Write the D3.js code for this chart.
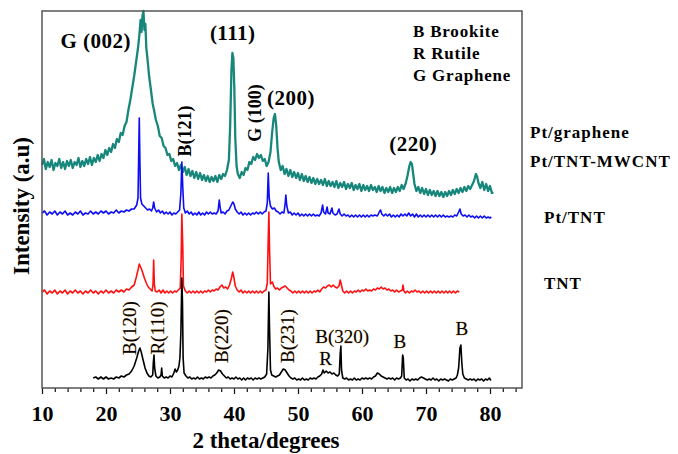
<!DOCTYPE html>
<html>
<head>
<meta charset="utf-8">
<script src="https://cdn.jsdelivr.net/npm/d3@7"></script>
<style>
  body { margin: 0; background: #fff; }
  svg text { font-family: "Liberation Serif", "Times New Roman", serif; }
</style>
</head>
<body>
<div id="grafico"></div>
<script>
// 2 theta (graus) e intensidade (u.a., com deslocamento vertical de cada amostra)
const ptGrafeno = [
  [10.0,223],[10.3,229],[10.6,219],[10.9,226],[11.2,221],[11.5,228],[11.8,218],[12.1,225],[12.4,222],[12.7,229],
  [13.0,220],[13.3,226],[13.6,219],[13.9,227],[14.2,222],[14.5,228],[14.8,220],[15.1,226],[15.4,223],[15.7,230],
  [16.0,221],[16.3,227],[16.6,222],[16.9,229],[17.2,224],[17.5,231],[17.8,223],[18.1,230],[18.4,226],[18.7,233],
  [19.0,227],[19.3,234],[19.6,230],[19.9,238],[20.2,233],[20.5,240],[20.8,236],[21.1,244],[21.4,240],[21.7,249],
  [22.0,246],[22.3,255],[22.6,253],[22.9,262],[23.2,266],[23.5,278],[23.8,288],[24.1,300],[24.4,312],[24.7,326],
  [25.0,340],[25.2,352],[25.4,368],[25.55,356],[25.7,372],[25.85,377],[26.0,358],[26.15,364],[26.3,340],[26.5,328],
  [26.7,314],[26.9,304],[27.1,294],[27.3,284],[27.5,278],[27.8,268],[28.1,262],[28.4,252],[28.7,250],[29.0,242],
  [29.3,240],[29.6,233],[29.9,234],[30.2,227],[30.5,229],[30.8,222],[31.1,225],[31.4,218],[31.7,223],[32.0,216],
  [32.3,221],[32.6,213],[32.9,219],[33.2,212],[33.5,217],[33.8,210],[34.1,216],[34.4,209],[34.7,215],[35.0,208],
  [35.3,213],[35.6,207],[35.9,212],[36.2,206],[36.5,211],[36.8,207],[37.1,212],[37.4,206],[37.7,213],[38.0,209],
  [38.3,214],[38.6,212],[38.9,218],[39.2,228],[39.4,262],[39.6,318],[39.75,335],[39.9,330],[40.05,300],[40.2,250],
  [40.4,222],[40.6,214],[40.9,210],[41.2,216],[41.5,213],[41.8,220],[42.1,218],[42.4,226],[42.7,224],[43.0,231],
  [43.3,228],[43.6,234],[43.9,230],[44.2,233],[44.5,227],[44.8,229],[45.1,222],[45.4,226],[45.7,236],[45.95,255],
  [46.2,270],[46.4,274],[46.6,262],[46.8,240],[47.0,226],[47.3,218],[47.6,222],[47.9,214],[48.2,219],[48.5,212],
  [48.8,218],[49.1,211],[49.4,216],[49.7,210],[50.0,215],[50.3,208],[50.6,214],[50.9,207],[51.2,212],[51.5,206],
  [51.8,211],[52.1,205],[52.4,210],[52.7,204],[53.0,209],[53.3,204],[53.6,208],[53.9,203],[54.2,209],[54.5,202],
  [54.8,207],[55.1,202],[55.4,206],[55.7,201],[56.0,207],[56.3,200],[56.6,205],[56.9,201],[57.2,206],[57.5,199],
  [57.8,204],[58.1,200],[58.4,205],[58.7,198],[59.0,203],[59.3,199],[59.6,204],[59.9,197],[60.2,203],[60.5,198],
  [60.8,202],[61.1,197],[61.4,203],[61.7,198],[62.0,201],[62.3,196],[62.6,202],[62.9,197],[63.2,201],[63.5,195],
  [63.8,200],[64.1,196],[64.4,201],[64.7,195],[65.0,200],[65.3,196],[65.6,201],[65.9,197],[66.2,203],[66.5,199],
  [66.8,204],[67.1,212],[67.4,222],[67.6,226],[67.8,224],[68.0,214],[68.2,204],[68.5,197],[68.8,201],[69.1,195],
  [69.4,200],[69.7,194],[70.0,199],[70.3,193],[70.6,198],[70.9,193],[71.2,197],[71.5,192],[71.8,197],[72.1,192],
  [72.4,196],[72.7,191],[73.0,196],[73.3,192],[73.6,197],[73.9,193],[74.2,198],[74.5,194],[74.8,199],[75.1,195],
  [75.4,200],[75.7,196],[76.0,201],[76.3,197],[76.6,202],[76.9,199],[77.2,203],[77.5,207],[77.8,214],[78.0,211],
  [78.2,205],[78.5,200],[78.8,206],[79.1,198],[79.4,204],[79.7,197],[80.0,202],[80.3,195],[80.5,196]
];

const ptTntMwcnt = [
  [10.0,175],[10.4,177],[10.8,173],[11.2,176],[11.6,174],[12.0,177],[12.4,173],[12.8,176],[13.2,174],[13.6,177],
  [14.0,173],[14.4,175],[14.8,173],[15.2,176],[15.6,174],[16.0,177],[16.4,173],[16.8,175],[17.2,174],[17.6,177],
  [18.0,174],[18.4,176],[18.8,174],[19.2,177],[19.6,175],[20.0,177],[20.4,174],[20.8,176],[21.2,175],[21.6,178],
  [22.0,175],[22.4,177],[22.8,176],[23.2,178],[23.6,177],[24.0,179],[24.4,179],[24.8,183],[25.0,190],[25.1,230],
  [25.2,270],[25.3,225],[25.4,190],[25.6,184],[25.9,182],[26.2,180],[26.5,178],[26.8,179],[27.1,177],[27.3,180],
  [27.45,186],[27.6,180],[27.9,176],[28.2,178],[28.5,175],[28.8,177],[29.1,174],[29.4,176],[29.7,174],[30.0,176],
  [30.3,173],[30.6,175],[30.9,174],[31.2,176],[31.5,178],[31.7,195],[31.85,226],[32.0,200],[32.15,180],[32.4,175],
  [32.7,177],[33.0,174],[33.3,176],[33.6,173],[33.9,175],[34.2,173],[34.5,176],[34.8,173],[35.1,175],[35.4,173],
  [35.7,176],[36.0,174],[36.3,176],[36.6,174],[36.9,175],[37.2,174],[37.5,177],[37.7,188],[37.85,180],[38.0,175],
  [38.3,176],[38.6,174],[38.9,177],[39.2,178],[39.5,182],[39.8,186],[40.0,184],[40.2,179],[40.5,176],[40.8,174],
  [41.1,176],[41.4,173],[41.7,175],[42.0,173],[42.3,175],[42.6,173],[42.9,175],[43.2,174],[43.5,176],[43.8,174],
  [44.1,176],[44.4,174],[44.7,176],[45.0,177],[45.2,185],[45.35,215],[45.5,190],[45.7,182],[46.0,179],[46.3,180],
  [46.6,177],[46.9,176],[47.2,174],[47.5,176],[47.8,175],[48.0,185],[48.1,193],[48.25,182],[48.5,175],[48.8,176],
  [49.1,173],[49.4,175],[49.7,173],[50.0,175],[50.3,172],[50.6,174],[50.9,172],[51.2,174],[51.5,172],[51.8,174],
  [52.1,172],[52.4,174],[52.7,172],[53.0,173],[53.3,172],[53.6,175],[53.85,183],[54.0,176],[54.3,174],[54.55,181],
  [54.7,175],[55.0,174],[55.3,180],[55.45,175],[55.8,173],[56.1,174],[56.4,179],[56.6,174],[56.9,172],[57.2,174],
  [57.5,172],[57.8,173],[58.1,171],[58.4,173],[58.7,171],[59.0,173],[59.3,171],[59.6,173],[59.9,171],[60.2,173],
  [60.5,171],[60.8,173],[61.1,171],[61.4,173],[61.7,172],[62.0,173],[62.4,172],[62.7,176],[62.9,178],[63.1,174],
  [63.4,172],[63.7,174],[64.0,172],[64.3,174],[64.6,171],[64.9,173],[65.2,171],[65.5,173],[65.8,171],[66.1,174],
  [66.4,172],[66.7,174],[67.0,172],[67.3,175],[67.6,172],[67.9,174],[68.2,171],[68.5,174],[68.8,171],[69.1,173],
  [69.4,171],[69.7,173],[70.0,171],[70.3,173],[70.6,171],[70.9,173],[71.2,171],[71.5,173],[71.8,171],[72.1,173],
  [72.4,171],[72.7,173],[73.0,171],[73.3,172],[73.6,171],[73.9,172],[74.2,171],[74.5,173],[74.8,172],[75.1,176],
  [75.3,179],[75.5,174],[75.8,172],[76.1,173],[76.4,171],[76.7,173],[77.0,171],[77.3,172],[77.6,170],[77.9,172],
  [78.2,170],[78.5,172],[78.8,170],[79.1,172],[79.4,170],[79.7,171],[80.0,170],[80.2,171]
];

const ptTnt = [
  [10.0,96],[10.4,98],[10.8,94],[11.2,97],[11.6,95],[12.0,98],[12.4,94],[12.8,97],[13.2,95],[13.6,98],
  [14.0,94],[14.4,97],[14.8,95],[15.2,98],[15.6,95],[16.0,97],[16.4,94],[16.8,97],[17.2,95],[17.6,98],
  [18.0,95],[18.4,97],[18.8,94],[19.2,97],[19.6,95],[20.0,98],[20.4,95],[20.8,97],[21.2,95],[21.6,98],
  [22.0,96],[22.4,98],[22.8,96],[23.2,99],[23.6,98],[24.0,101],[24.4,103],[24.7,110],[25.0,118],[25.2,124],
  [25.4,121],[25.6,118],[25.8,114],[26.0,110],[26.3,105],[26.6,101],[26.9,99],[27.2,97],[27.35,104],[27.45,128],
  [27.55,104],[27.7,97],[28.0,96],[28.3,98],[28.6,95],[28.9,98],[29.2,95],[29.5,97],[29.8,95],[30.1,97],
  [30.4,95],[30.7,97],[31.0,96],[31.3,98],[31.6,100],[31.75,130],[31.85,174],[32.0,140],[32.1,102],[32.4,97],
  [32.7,95],[33.0,97],[33.3,95],[33.6,97],[33.9,95],[34.2,97],[34.5,95],[34.8,97],[35.1,95],[35.4,97],
  [35.7,96],[36.0,98],[36.3,96],[36.6,98],[36.9,97],[37.2,99],[37.5,98],[37.8,101],[38.1,103],[38.4,100],
  [38.7,101],[39.0,99],[39.3,103],[39.6,110],[39.8,116],[40.0,110],[40.2,102],[40.5,98],[40.8,96],[41.1,98],
  [41.4,95],[41.7,97],[42.0,95],[42.3,97],[42.6,95],[42.9,97],[43.2,95],[43.5,97],[43.8,95],[44.1,97],
  [44.4,95],[44.7,97],[45.0,98],[45.2,105],[45.35,150],[45.45,176],[45.55,140],[45.7,104],[46.0,106],[46.2,102],
  [46.5,99],[46.8,100],[47.1,98],[47.4,100],[47.7,101],[48.0,102],[48.3,100],[48.6,98],[48.9,97],[49.2,95],
  [49.5,97],[49.8,95],[50.1,97],[50.4,95],[50.7,97],[51.0,95],[51.3,97],[51.6,95],[51.9,97],[52.2,95],
  [52.5,97],[52.8,96],[53.1,98],[53.4,96],[53.7,99],[54.0,101],[54.3,100],[54.6,102],[54.9,103],[55.2,101],
  [55.5,103],[55.8,101],[56.1,100],[56.4,102],[56.6,108],[56.75,104],[57.0,97],[57.3,95],[57.6,97],[57.9,95],
  [58.2,97],[58.5,95],[58.8,97],[59.1,96],[59.4,98],[59.7,96],[60.0,98],[60.3,97],[60.6,99],[60.9,97],
  [61.2,98],[61.5,97],[61.8,99],[62.1,98],[62.4,100],[62.7,99],[63.0,101],[63.3,99],[63.6,100],[63.9,98],
  [64.2,99],[64.5,97],[64.8,98],[65.1,96],[65.4,98],[65.7,96],[66.0,97],[66.3,98],[66.4,103],[66.55,97],
  [66.8,95],[67.1,97],[67.4,95],[67.7,97],[68.0,96],[68.3,98],[68.6,96],[68.9,97],[69.2,95],[69.5,97],
  [69.8,95],[70.1,97],[70.4,95],[70.7,97],[71.0,95],[71.3,97],[71.6,95],[71.9,97],[72.2,95],[72.5,97],
  [72.8,95],[73.1,97],[73.4,95],[73.7,97],[74.0,95],[74.3,97],[74.6,95],[74.9,97],[75.2,96]
];

const tntPuro = [
  [18.0,10],[18.4,11],[18.8,9],[19.2,11],[19.6,9],[20.0,11],[20.4,9],[20.8,10],[21.2,9],[21.6,11],
  [22.0,10],[22.4,12],[22.8,11],[23.2,13],[23.6,14],[24.0,17],[24.4,22],[24.8,30],[25.1,37],[25.3,40],
  [25.5,36],[25.8,28],[26.1,20],[26.4,15],[26.7,12],[27.0,11],[27.3,13],[27.4,26],[27.5,33],[27.6,20],
  [27.8,12],[28.1,10],[28.4,11],[28.6,13],[28.7,20],[28.8,12],[29.1,10],[29.4,11],[29.7,10],[30.0,12],
  [30.3,11],[30.6,15],[30.8,19],[31.0,16],[31.2,18],[31.4,22],[31.55,30],[31.7,55],[31.85,110],[31.95,85],
  [32.05,30],[32.2,15],[32.5,12],[32.8,10],[33.1,11],[33.4,9],[33.7,10],[34.0,9],[34.3,11],[34.6,9],
  [34.9,10],[35.2,9],[35.5,11],[35.8,10],[36.1,11],[36.4,10],[36.7,12],[37.0,13],[37.3,15],[37.6,18],
  [37.9,17],[38.2,14],[38.5,12],[38.8,10],[39.1,11],[39.4,9],[39.7,10],[40.0,9],[40.3,11],[40.6,9],
  [40.9,10],[41.2,8],[41.5,10],[41.8,8],[42.1,10],[42.4,9],[42.7,10],[43.0,8],[43.3,10],[43.6,9],
  [43.9,10],[44.2,9],[44.5,10],[44.8,11],[45.1,14],[45.3,40],[45.45,96],[45.55,60],[45.7,18],[45.9,13],
  [46.2,12],[46.5,11],[46.8,12],[47.1,13],[47.4,16],[47.7,19],[48.0,18],[48.3,15],[48.6,12],[48.9,10],
  [49.2,9],[49.5,10],[49.8,8],[50.1,9],[50.4,8],[50.7,10],[51.0,8],[51.3,9],[51.6,8],[51.9,10],
  [52.2,9],[52.5,10],[52.8,9],[53.1,11],[53.4,12],[53.7,14],[53.9,18],[54.1,15],[54.4,17],[54.7,15],
  [55.0,16],[55.3,14],[55.6,15],[55.9,13],[56.2,12],[56.45,14],[56.6,35],[56.7,42],[56.8,18],[57.0,10],
  [57.3,9],[57.6,10],[57.9,8],[58.2,9],[58.5,8],[58.8,10],[59.1,8],[59.4,9],[59.7,8],[60.0,10],
  [60.3,9],[60.6,10],[60.9,9],[61.2,10],[61.5,9],[61.8,11],[62.1,12],[62.4,15],[62.7,14],[63.0,12],
  [63.3,11],[63.6,10],[63.9,9],[64.2,10],[64.5,9],[64.8,10],[65.1,8],[65.4,10],[65.7,9],[66.0,10],
  [66.2,12],[66.35,33],[66.45,30],[66.6,10],[66.9,8],[67.2,9],[67.5,7],[67.8,9],[68.1,8],[68.4,9],
  [68.7,8],[69.0,10],[69.3,11],[69.6,10],[69.9,9],[70.2,8],[70.5,9],[70.8,8],[71.1,10],[71.4,8],
  [71.7,9],[72.0,7],[72.3,9],[72.6,8],[72.9,9],[73.2,8],[73.5,7],[73.8,9],[74.1,8],[74.4,9],
  [74.7,10],[74.9,13],[75.1,20],[75.3,40],[75.45,43],[75.6,25],[75.75,14],[76.0,10],[76.3,9],[76.6,8],
  [76.9,9],[77.2,8],[77.5,9],[77.8,7],[78.1,9],[78.4,8],[78.7,9],[79.0,7],[79.3,9],[79.6,8],
  [79.9,10],[80.1,8],[80.2,8]
];

// rótulos dos picos: [texto, 2theta, intensidade]
const picosPt = [["G (002)",18.4,340],["(111)",39.8,348],["(200)",48.9,283],["(220)",68.0,237]];
const picosVerticais = [["B(121)",32.3,257],["G (100)",43.3,275]];
const picosTnt = [["B(120)",23.6,60],["R(110)",28.0,60],["B(220)",38.1,52],["B(231)",48.3,52]];
const picosTntHoriz = [["B(320)",56.9,45],["R",54.3,23],["B",65.9,40],["B",75.6,53]];

const legendaFases = ["B Brookite", "R Rutile", "G Graphene"];
const nomesAmostras = ["Pt/graphene", "Pt/TNT-MWCNT", "Pt/TNT", "TNT"];
const ticksX = d3.range(10, 85, 2);

const fonte = '"Liberation Serif", "Times New Roman", serif';

// Configurações do gráfico
let margin = { top: 11, right: 156, bottom: 66, left: 42 };
let width = 678 - margin.left - margin.right;
let height = 454 - margin.top - margin.bottom;

let svgRaiz = d3.select("#grafico").append("svg")
  .attr("width", 678)
  .attr("height", 454);

let svg = svgRaiz.append("g")
  .attr("transform", `translate(${margin.left}, ${margin.top})`);

let x = d3.scaleLinear().domain([10, 85]).range([0, width]);
let y = d3.scaleLinear().domain([0, 377]).range([height, 0]);

// Eixo x
let gx = svg.append("g")
  .attr("transform", `translate(0,${height})`)
  .call(d3.axisBottom(x).tickValues(ticksX).tickSize(4)
    .tickFormat(d => d % 10 === 0 ? d : ""));
gx.attr("font-family", fonte);
gx.select(".domain").remove();
gx.selectAll(".tick line")
  .attr("stroke", "#111")
  .attr("stroke-width", 1.2)
  .attr("y2", d => d % 10 === 0 ? 6 : 4);
gx.selectAll(".tick text")
  .attr("y", 17)
  .attr("font-size", 22)
  .attr("font-weight", "bold")
  .attr("fill", "#000");

// Linhas
let linha = d3.line()
  .x(d => x(d[0]))
  .y(d => y(d[1]));

const series = [
  { dados: ptGrafeno, cor: "#16877a", largura: 2.3 },
  { dados: ptTntMwcnt, cor: "#0c0cf5", largura: 1.6 },
  { dados: ptTnt, cor: "#ff1010", largura: 1.6 },
  { dados: tntPuro, cor: "#000", largura: 1.6 }
];

series.forEach(s => {
  svg.append("path")
    .datum(s.dados)
    .attr("d", linha)
    .attr("fill", "none")
    .attr("stroke", s.cor)
    .attr("stroke-width", s.largura)
    .attr("stroke-linejoin", "round");
});

// Moldura
svg.append("rect")
  .attr("x", 0).attr("y", 0)
  .attr("width", width).attr("height", height)
  .attr("fill", "none")
  .attr("stroke", "#555")
  .attr("stroke-width", 1.5);

// Rótulos dos picos
svg.selectAll(".picoPt").data(picosPt).enter().append("text")
  .attr("x", d => x(d[1])).attr("y", d => y(d[2]))
  .attr("text-anchor", "middle")
  .attr("font-size", 21).attr("font-weight", "bold")
  .attr("letter-spacing", 0.5)
  .text(d => d[0]);

svg.selectAll(".picoVert").data(picosVerticais).enter().append("text")
  .attr("transform", d => `translate(${x(d[1])},${y(d[2])}) rotate(-90)`)
  .attr("text-anchor", "middle").attr("dy", "0.35em")
  .attr("font-size", 18).attr("font-weight", "bold")
  .text(d => d[0]);

svg.selectAll(".picoTnt").data(picosTnt).enter().append("text")
  .attr("transform", d => `translate(${x(d[1])},${y(d[2])}) rotate(-90)`)
  .attr("text-anchor", "middle").attr("dy", "0.35em")
  .attr("font-size", 19)
  .attr("fill", "#000")
  .attr("stroke", "#e9a640").attr("stroke-width", 0.4)
  .attr("paint-order", "stroke")
  .text(d => d[0]);

svg.selectAll(".picoTntH").data(picosTntHoriz).enter().append("text")
  .attr("x", d => x(d[1])).attr("y", d => y(d[2]))
  .attr("text-anchor", "middle")
  .attr("font-size", 19)
  .attr("fill", "#000")
  .attr("stroke", "#e9a640").attr("stroke-width", 0.4)
  .attr("paint-order", "stroke")
  .text(d => d[0]);

// Legenda das fases
svgRaiz.selectAll(".fase").data(legendaFases).enter().append("text")
  .attr("x", 413).attr("y", (d, i) => 37 + i * 22)
  .attr("font-size", 17).attr("font-weight", "bold")
  .attr("letter-spacing", 0.8)
  .text(d => d);

// Nomes das amostras (à direita)
const posNomes = [[530, 138], [530, 167], [544, 223], [544, 289]];
svgRaiz.selectAll(".amostra").data(nomesAmostras).enter().append("text")
  .attr("x", (d, i) => posNomes[i][0]).attr("y", (d, i) => posNomes[i][1])
  .attr("font-size", 17).attr("font-weight", "bold")
  .attr("letter-spacing", 1)
  .text(d => d);

// Títulos dos eixos
svgRaiz.append("text")
  .attr("x", 266).attr("y", 448)
  .attr("text-anchor", "middle")
  .attr("font-size", 23).attr("font-weight", "bold")
  .text("2 theta/degrees");

svgRaiz.append("text")
  .attr("transform", "translate(29,206) rotate(-90)")
  .attr("text-anchor", "middle")
  .attr("font-size", 23).attr("font-weight", "bold")
  .text("Intensity (a.u)");
</script>
</body>
</html>
